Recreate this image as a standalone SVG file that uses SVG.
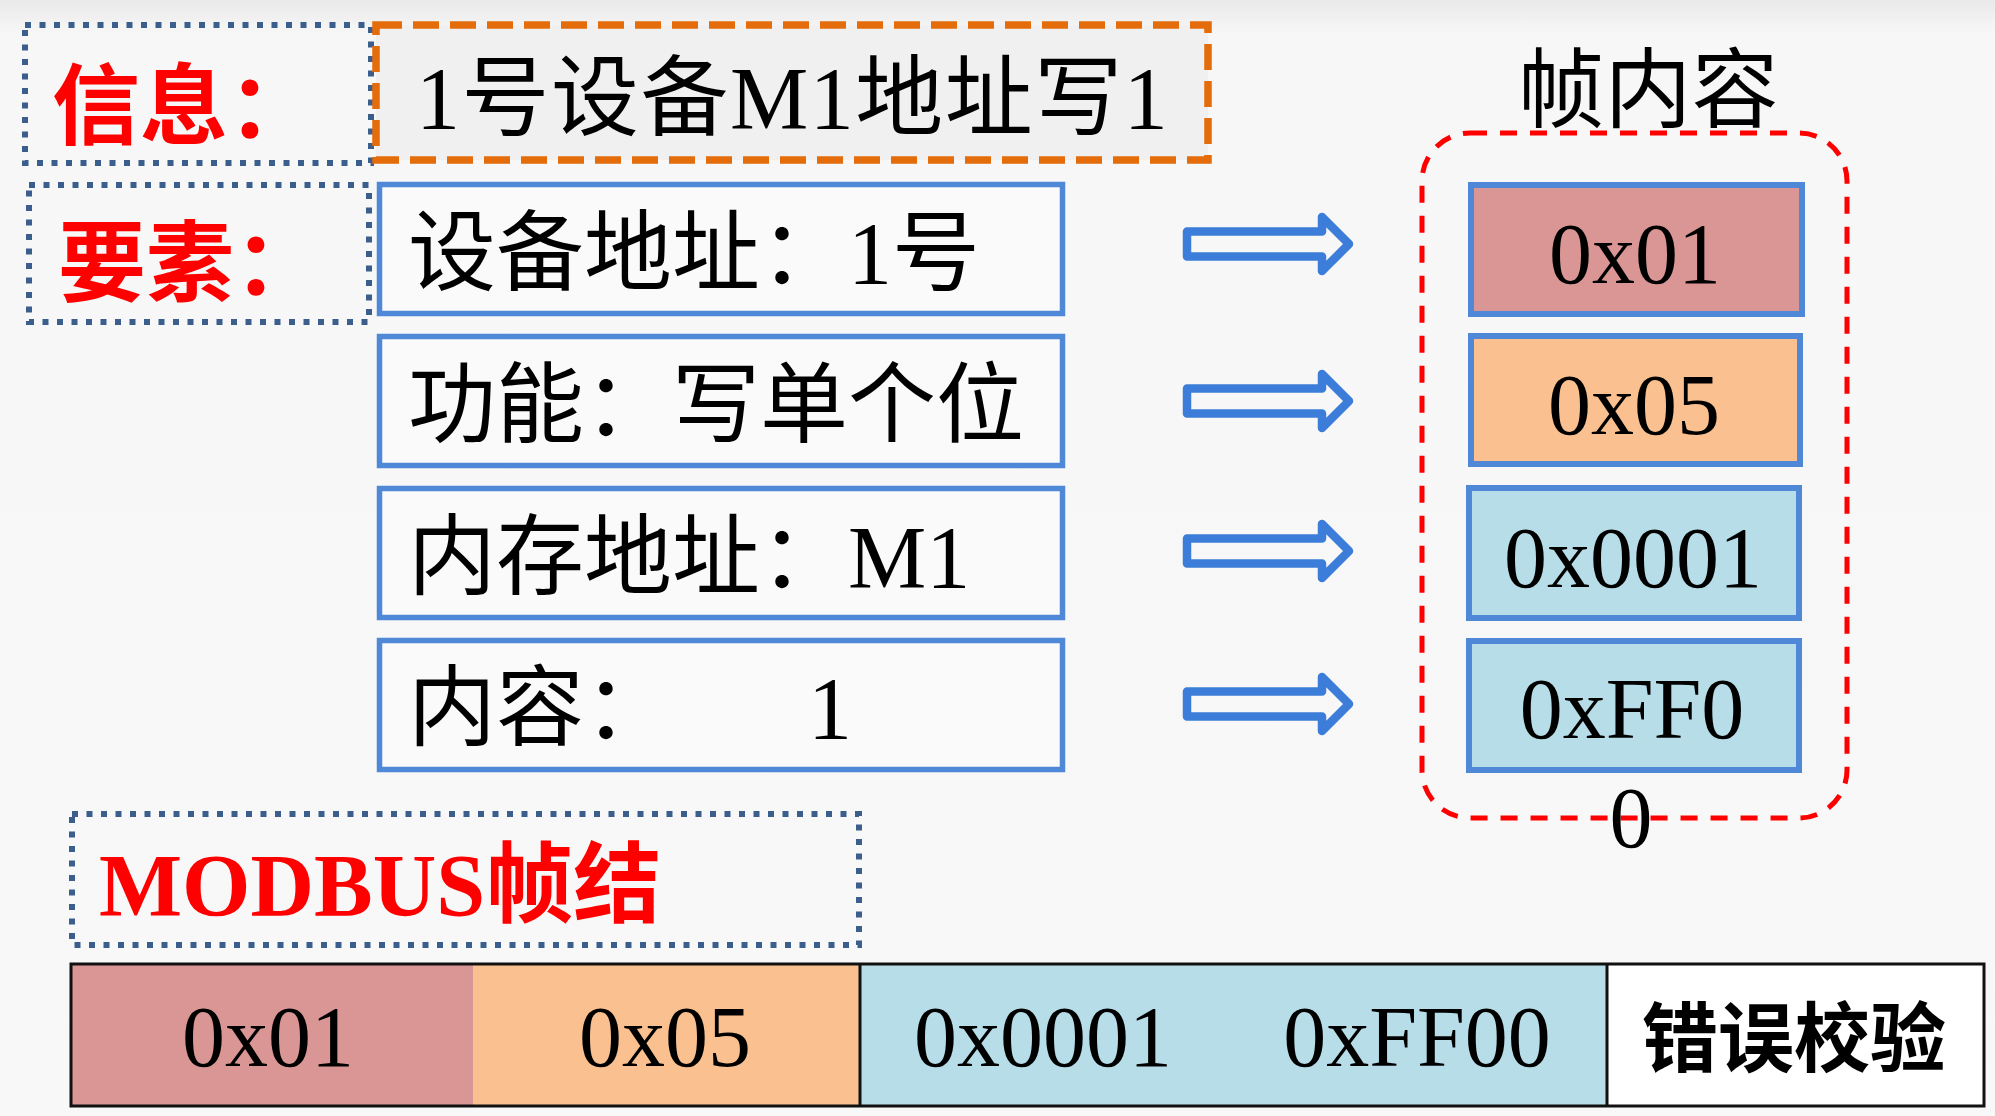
<svg xmlns="http://www.w3.org/2000/svg" width="1995" height="1116" viewBox="0 0 1995 1116">
  <defs>
    <linearGradient id="bg" x1="0" y1="0" x2="0" y2="1">
      <stop offset="0" stop-color="#e9e9e9"/>
      <stop offset="0.03" stop-color="#f7f7f7"/>
      <stop offset="1" stop-color="#f8f8f8"/>
    </linearGradient>
    <style>
      .serif { font-family: 'Liberation Serif', 'Noto Sans CJK SC', serif; fill: #000; }
      .lbl { font-family: 'Noto Sans CJK SC', 'Liberation Sans', sans-serif; font-weight: bold; fill: #ff0000; }
      .dotbox { fill: none; stroke: #3b5e8c; stroke-width: 6; stroke-dasharray: 6 8.5; }
      .item { fill: #ffffff; fill-opacity: 0.35; stroke: #4e88d6; stroke-width: 5.5; }
      .fbox { stroke: #4e88d6; stroke-width: 6; }
      .arrow { fill: none; stroke: #3b7dd8; stroke-width: 8.5; stroke-linejoin: round; }
      .seg { stroke: none; }
      .pink { fill: #d99694; }
      .orange { fill: #fac090; }
      .cyan { fill: #b7dee8; }
    </style>
  </defs>

  <rect x="0" y="0" width="1995" height="1116" fill="url(#bg)"/>

  <!-- 信息 label -->
  <g id="label-info">
    <rect class="dotbox" x="25" y="25" width="346" height="138"/>
    <text class="lbl" x="52" y="137" font-size="88">信息：</text>
  </g>

  <!-- message box -->
  <g id="message">
    <rect x="376" y="25" width="832" height="135" fill="#f0f0f0" stroke="#e46c0a" stroke-width="7.5" stroke-dasharray="26 11"/>
    <text class="serif" x="416" y="128" font-size="88" letter-spacing="1.5">1号设备M1地址写1</text>
  </g>

  <!-- 要素 label -->
  <g id="label-elements">
    <rect class="dotbox" x="29" y="185" width="340" height="137"/>
    <text class="lbl" x="58" y="294" font-size="88">要素：</text>
  </g>

  <!-- element boxes -->
  <g id="elem-device">
    <rect class="item" x="379.5" y="184.5" width="683" height="129"/>
    <text class="serif" x="408" y="283" font-size="88">设备地址：1号</text>
  </g>
  <g id="elem-function">
    <rect class="item" x="379.5" y="336.5" width="683" height="129"/>
    <text class="serif" x="408" y="435" font-size="88">功能：写单个位</text>
  </g>
  <g id="elem-memory">
    <rect class="item" x="379.5" y="488.5" width="683" height="129"/>
    <text class="serif" x="408" y="587" font-size="88">内存地址：M1</text>
  </g>
  <g id="elem-content">
    <rect class="item" x="379.5" y="640.5" width="683" height="129"/>
    <text class="serif" x="408" y="738" font-size="88">内容：<tspan x="808">1</tspan></text>
  </g>

  <!-- frame content group -->
  <g id="frame-content">
    <text class="serif" x="1648" y="121" font-size="87" text-anchor="middle">帧内容</text>
    <rect x="1422" y="133" width="425" height="685" rx="48" ry="48" fill="none" stroke="#ff0000" stroke-width="5" stroke-dasharray="17 13"/>
  </g>
  <g id="frame-addr">
    <rect class="fbox pink" x="1471" y="185" width="331" height="129"/>
    <text class="serif" x="1635" y="283" font-size="86" text-anchor="middle">0x01</text>
  </g>
  <g id="frame-func">
    <rect class="fbox orange" x="1471" y="336" width="329" height="128"/>
    <text class="serif" x="1634" y="434" font-size="86" text-anchor="middle">0x05</text>
  </g>
  <g id="frame-mem">
    <rect class="fbox cyan" x="1469" y="488" width="330" height="130"/>
    <text class="serif" x="1633" y="587" font-size="86" text-anchor="middle">0x0001</text>
  </g>
  <g id="frame-data">
    <rect class="fbox cyan" x="1469" y="641" width="330" height="129"/>
    <text class="serif" x="1632" y="738" font-size="86" text-anchor="middle">0xFF0</text>
    <text class="serif" x="1631" y="847" font-size="86" text-anchor="middle">0</text>
  </g>

  <!-- connectors -->
  <g id="connectors">
    <path class="arrow" d="M1187,231.5 H1322 V217 L1349,244 L1322,271 V256.5 H1187 Z"/>
    <path class="arrow" d="M1187,388.5 H1322 V374 L1349,401 L1322,428 V413.5 H1187 Z"/>
    <path class="arrow" d="M1187,538.5 H1322 V524 L1349,551 L1322,578 V563.5 H1187 Z"/>
    <path class="arrow" d="M1187,691.5 H1322 V677 L1349,704 L1322,731 V716.5 H1187 Z"/>
  </g>

  <!-- MODBUS frame label -->
  <g id="label-modbus">
    <rect class="dotbox" x="72" y="814" width="787" height="131"/>
    <text x="99" y="915" font-size="88" font-weight="bold" fill="#ff0000" font-family="'Liberation Serif', 'Noto Sans CJK SC', serif">MODBUS帧结</text>
  </g>

  <!-- bottom frame bar -->
  <g id="frame-bar">
    <rect class="seg pink" x="71" y="964" width="402" height="142"/>
    <rect class="seg orange" x="473" y="964" width="387" height="142"/>
    <rect class="seg cyan" x="860" y="964" width="747" height="142"/>
    <rect x="1607" y="964" width="377" height="142" fill="#ffffff"/>
    <rect x="71" y="964" width="1913" height="142" fill="none" stroke="#111" stroke-width="3"/>
    <line x1="860" y1="964" x2="860" y2="1106" stroke="#111" stroke-width="3"/>
    <line x1="1607" y1="964" x2="1607" y2="1106" stroke="#111" stroke-width="3"/>
    <text class="serif" x="268" y="1066" font-size="86" text-anchor="middle">0x01</text>
    <text class="serif" x="665" y="1066" font-size="86" text-anchor="middle">0x05</text>
    <text class="serif" x="1043" y="1066" font-size="86" text-anchor="middle">0x0001</text>
    <text class="serif" x="1417" y="1066" font-size="86" text-anchor="middle">0xFF00</text>
    <text x="1794" y="1066" font-size="76" font-weight="bold" text-anchor="middle" fill="#000" font-family="'Noto Sans CJK SC', 'Liberation Sans', sans-serif">错误校验</text>
  </g>
</svg>
